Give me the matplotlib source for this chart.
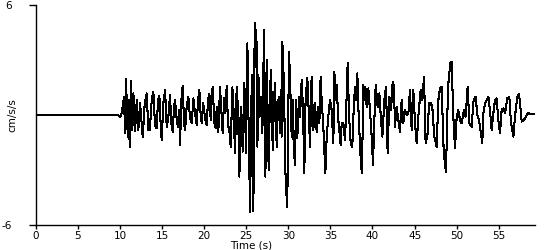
import matplotlib
matplotlib.use("Agg")
import matplotlib.pyplot as plt

# ground acceleration trace (time in s, value in cm/s/s)
time_s = [
    0.0, 9.8, 10.02, 10.21, 10.49, 10.61, 10.73, 10.93, 11.05, 11.16, 11.32, 11.48,
    11.60, 11.80, 12.00, 12.19, 12.39, 12.71, 12.95, 13.18, 13.38, 13.55, 13.78, 13.97,
    14.17, 14.37, 14.53, 14.69, 14.85, 14.96, 15.16, 15.36, 15.56, 15.76, 15.95, 16.11,
    16.27, 16.43, 16.55, 16.75, 16.90, 17.02, 17.14, 17.30, 17.46, 17.62, 17.74, 17.93,
    18.13, 18.33, 18.53, 18.73, 18.92, 19.12, 19.28, 19.44, 19.60, 19.72, 19.88, 20.00,
    20.15, 20.31, 20.47, 20.63, 20.78, 20.90, 21.02, 21.22, 21.38, 21.50, 21.69, 21.89,
    22.05, 22.21, 22.37, 22.53, 22.68, 22.84, 23.00, 23.16, 23.36, 23.52, 23.67, 23.87,
    24.03, 24.19, 24.35, 24.47, 24.58, 24.78, 24.98, 25.14, 25.30, 25.46, 25.61, 25.69,
    25.85, 26.01, 26.13, 26.21, 26.33, 26.45, 26.60, 26.76, 26.92, 27.12, 27.28, 27.43,
    27.55, 27.67, 27.83, 27.95, 28.15, 28.31, 28.42, 28.62, 28.78, 28.90, 29.01, 29.13,
    29.21, 29.29, 29.41, 29.53, 29.61, 29.85, 29.92, 30.08, 30.20, 30.40, 30.52, 30.64,
    30.80, 30.91, 31.07, 31.27, 31.39, 31.59, 31.75, 31.90, 32.06, 32.26, 32.42, 32.58,
    32.77, 32.97, 33.17, 33.37, 33.57, 33.69, 33.84, 33.96, 34.16, 34.40, 34.56, 34.75,
    34.95, 35.15, 35.35, 35.47, 35.63, 35.74, 35.94, 36.22, 36.34, 36.54, 36.73, 36.85,
    37.05, 37.21, 37.41, 37.60, 37.76, 37.92, 38.04, 38.20, 38.36, 38.52, 38.63, 38.75,
    38.91, 39.03, 39.15, 39.31, 39.50, 39.70, 39.90, 40.06, 40.22, 40.38, 40.61, 40.81,
    41.01, 41.17, 41.41, 41.60, 41.80, 42.00, 42.20, 42.40, 42.55, 42.67, 42.87, 43.07,
    43.27, 43.46, 43.66, 43.86, 44.06, 44.26, 44.45, 44.65, 44.85, 45.05, 45.25, 45.44,
    45.72, 45.92, 46.12, 46.31, 46.55, 46.71, 46.91, 47.10, 47.34, 47.62, 47.82, 48.02,
    48.21, 48.45, 48.61, 48.73, 48.89, 49.01, 49.24, 49.40, 49.60, 49.80, 50.00, 50.19,
    50.39, 50.59, 50.87, 51.06, 51.30, 51.50, 51.78, 51.98, 52.25, 52.45, 52.65, 52.85,
    53.04, 53.16, 53.36, 53.56, 53.76, 53.95, 54.15, 54.35, 54.55, 54.75, 54.94, 55.14,
    55.34, 55.54, 55.74, 56.01, 56.25, 56.45, 56.61, 56.73, 56.92, 57.20, 57.40, 57.52,
    57.72, 57.91, 58.11, 58.31, 58.51, 58.90, 59.30,
]
accel = [
    0.0, 0.0, -0.13, 0.10, 1.00, -1.00, 1.95, -1.18, 0.82, -1.73, 1.87, -0.82,
    1.18, -0.90, 0.82, -0.82, 0.64, -1.18, 0.64, 1.18, -0.82, -0.82, 0.82, 1.27,
    -0.55, -0.73, 0.82, 1.04, -0.64, -1.36, 0.64, 1.36, -0.64, -0.09, 1.09, -0.45,
    -0.91, 0.45, 0.82, -0.27, -0.64, 0.27, -1.64, 0.82, 1.58, -0.45, -0.82, 0.45,
    1.00, -0.18, -0.45, 0.91, 0.09, -0.55, 0.82, 1.36, -0.09, -0.42, 0.64, 0.27,
    -0.27, -0.55, 0.82, 1.15, -0.27, 0.82, 1.55, -0.45, -0.73, 0.45, -0.91, 1.51,
    0.27, -1.00, 0.91, 0.09, 1.58, -0.55, -0.82, -1.73, 1.51, 0.09, -2.09, 1.55,
    0.27, -3.36, 0.45, -0.09, -2.00, 1.73, -2.09, 3.91, -1.00, -5.27, 0.64, 2.18,
    -5.24, 5.00, 2.60, 4.64, -1.73, 2.18, -0.09, 1.00, -1.00, 4.64, -3.36, 3.00,
    -0.10, -3.00, 1.36, 2.45, -1.91, 0.82, 1.73, -1.73, 0.64, 1.00, -1.00, 1.36,
    -1.18, 4.00, 2.64, 0.45, -2.64, -5.00, -3.55, 3.45, 2.09, -1.18, 0.82, -1.73,
    -2.73, 0.82, -1.27, 1.00, -0.09, 1.91, 0.27, -3.18, 1.00, 2.00, 0.27, -1.73,
    2.09, -0.82, 0.64, -0.91, 0.45, -0.45, 2.09, 0.82, -0.64, -3.18, -1.18, -0.09,
    0.82, 0.27, -1.55, 2.36, 0.82, 1.64, -0.27, -1.64, -0.45, -0.45, -1.36, -0.09,
    2.82, 0.00, -1.55, -1.73, 0.27, 1.55, 0.82, 2.27, -0.09, -1.73, -2.73, -3.18,
    1.64, 0.82, 1.55, 0.45, 1.45, 0.27, -1.18, -2.73, -0.27, 1.64, 0.45, 1.18,
    -0.27, -1.18, 0.82, 1.55, -2.09, 1.00, 0.27, 1.82, 1.55, -0.64, 0.45, -0.27,
    -0.91, 0.82, -0.45, 0.27, 0.00, 0.09, 1.36, -0.82, 1.36, -0.45, -1.55, -0.09,
    1.36, 0.82, 2.09, -1.55, -1.00, 0.64, 0.64, 0.45, -1.18, -1.73, 0.82, 1.45,
    1.55, -1.91, -2.73, -3.09, 0.09, 1.73, 2.82, 2.91, -0.09, -1.82, -0.09, 0.27,
    -0.27, -0.45, 0.27, -0.09, 1.55, -0.45, -0.64, 0.73, 1.00, 0.00, -0.27, -0.91,
    -1.55, 0.09, 0.64, 0.82, 1.00, 0.27, -0.82, 0.09, 0.82, 0.91, -0.27, -1.00,
    0.27, 0.36, 0.09, 0.91, 1.00, -0.45, -0.82, -1.18, -0.09, 1.00, 1.15, 0.64,
    -0.36, -0.27, -0.18, 0.00, 0.09, 0.05, 0.04,
]
x_ticks = [0, 5, 10, 15, 20, 25, 30, 35, 40, 45, 50, 55]
y_ticks = [-6, 6]

fig = plt.figure(figsize=(5.5, 2.5), dpi=100)
ax = fig.add_axes([35.7 / 550, 25 / 250, 499.3 / 550, 220 / 250])
ax.plot(time_s, accel, color='black', lw=0.75, antialiased=False)

ax.set_xlim(0, 59.3); ax.set_ylim(-6, 6)
ax.set_xticks(x_ticks); ax.set_yticks(y_ticks)
ax.set_yticklabels([str(v) for v in y_ticks])
for s in ('top', 'right'):
    ax.spines[s].set_visible(False)
for s in ('left', 'bottom'):
    ax.spines[s].set_linewidth(1.0)
ax.tick_params(axis='x', direction='out', length=3, width=1, pad=1, labelsize=7.5)
ax.tick_params(axis='y', direction='out', length=5, width=1, pad=12, labelsize=7.5)

fig.text(12 / 550, 1 - 115 / 250, "cm/s/s", rotation=90, ha='center', va='center', fontsize=7.5)
fig.text(251 / 550, 1 - 246 / 250, "Time (s)", ha='center', va='center', fontsize=7.5)

fig.savefig("out.png", dpi=100)
